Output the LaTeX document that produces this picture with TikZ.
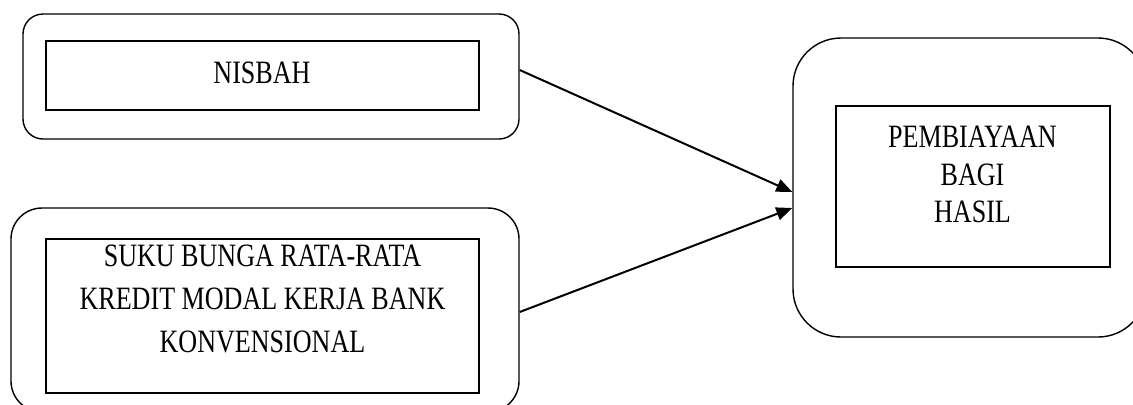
\documentclass[tikz,border=0pt]{standalone}
\usepackage{fontspec}
\setmainfont[FakeStretch=0.8]{Liberation Serif}
\usetikzlibrary{arrows.meta}
\begin{document}
\begin{tikzpicture}[x=0.5pt,y=-0.5pt,
  outerbox/.style={draw,line width=0.7pt,inner sep=0pt},
  innerbox/.style={draw,line width=0.7pt,inner sep=0pt},
  boxtext/.style={align=center,inner sep=0pt,font=\fontsize{16.3}{21.5}\selectfont},
  link/.style={-{Triangle[length=8pt,width=6.5pt]},line width=1pt}]
\useasboundingbox (0,0) rectangle (1133,404);

% left column
\node[outerbox,rounded corners=10pt,minimum width=248pt,minimum height=62.5pt] (nisbah) at (271,76.5) {};
\node[innerbox,minimum width=216.5pt,minimum height=34.5pt] (nisbahbox) at (262.5,75.5) {};
\node[boxtext] (nisbahtext) at (262,73) {NISBAH};

\node[outerbox,rounded corners=15.5pt,minimum width=254pt,minimum height=102pt] (bunga) at (265,310) {};
\node[innerbox,minimum width=216.5pt,minimum height=77pt] (bungabox) at (262.5,316) {};
\node[boxtext] (bungatext) at (262.5,299) {SUKU BUNGA RATA-RATA\\KREDIT MODAL KERJA BANK\\KONVENSIONAL};

% right column
\node[outerbox,rounded corners=24pt,minimum width=176.5pt,minimum height=149.5pt] (hasil) at (969.5,187.5) {};
\node[innerbox,minimum width=137pt,minimum height=80.5pt] (hasilbox) at (973,186.5) {};
\node[boxtext,font=\fontsize{16.3}{18.75}\selectfont] (hasiltext) at (972.5,174.5) {PEMBIAYAAN\\BAGI\\HASIL};

\draw[link] ([yshift=3.25pt]nisbah.east) -- ([yshift=-2.25pt]hasil.west);
\draw[link] ([yshift=-1pt]bunga.east) -- ([yshift=-10.25pt]hasil.west);
\end{tikzpicture}
\end{document}
